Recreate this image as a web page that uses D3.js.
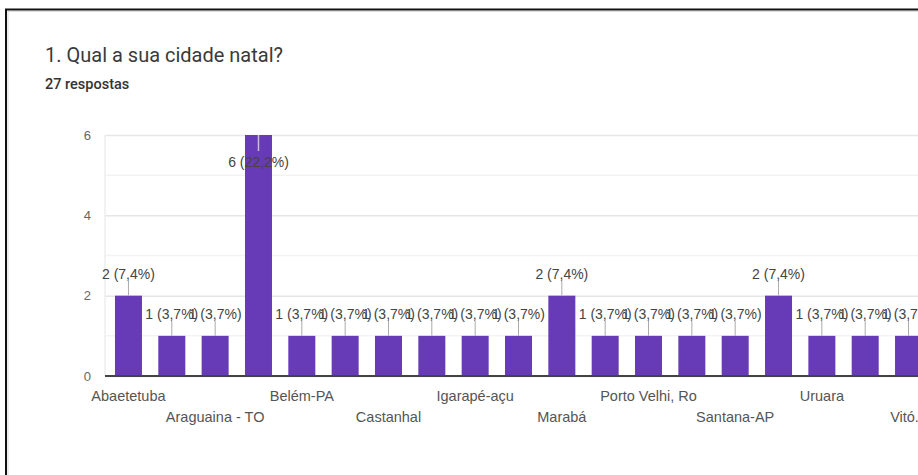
<!DOCTYPE html>
<html>
<head>
<meta charset="utf-8">
<script src="https://cdn.jsdelivr.net/npm/d3@7/dist/d3.min.js"></script>
<style>
  html, body { margin: 0; padding: 0; background: #fff; overflow: hidden; }
  svg { display: block; }
</style>
</head>
<body>
<svg id="chart" width="918" height="475"></svg>
<script>
const title = "1. Qual a sua cidade natal?";
const subtitle = "27 respostas";
const categories = ["Abaetetuba", "Ananindeua", "Araguaina - TO", "Belém", "Belém-PA", "Breves",
  "Castanhal", "Curuçá", "Igarapé-açu", "Itaituba", "Marabá", "Parauapebas", "Porto Velhi, Ro",
  "Redenção", "Santana-AP", "Santarém", "Uruara", "Vigia", "Vitória do Xingu"];
const tickLabels = ["Abaetetuba", "", "Araguaina - TO", "", "Belém-PA", "", "Castanhal", "",
  "Igarapé-açu", "", "Marabá", "", "Porto Velhi, Ro", "", "Santana-AP", "", "Uruara", "", "Vitó..."];
const values = [2, 1, 1, 6, 1, 1, 1, 1, 1, 1, 2, 1, 1, 1, 1, 2, 1, 1, 1];
const total = 27;
const yMajorTicks = [0, 2, 4, 6];
const yMinorTicks = [1, 3, 5];

const svg = d3.select("#chart");

// card border
svg.append("rect").attr("x", 6).attr("y", 9.5).attr("width", 1000).attr("height", 600)
  .attr("fill", "#fff").attr("stroke", "#111").attr("stroke-width", 2);
svg.append("rect").attr("x", 8).attr("y", 11.5).attr("width", 1000).attr("height", 600)
  .attr("fill", "none").attr("stroke", "#ddd").attr("stroke-width", 1);

svg.append("text").attr("x", 45).attr("y", 62)
  .attr("font-family", "Roboto, 'Liberation Sans', sans-serif").attr("font-size", 20)
  .attr("fill", "#3a3a3a").text(title);
svg.append("text").attr("x", 45).attr("y", 89)
  .attr("font-family", "Roboto, 'Liberation Sans', sans-serif").attr("font-size", 14.5)
  .attr("font-weight", 500).attr("fill", "#333").text(subtitle);

const x = d3.scaleBand().domain(categories).range([105, 932])
  .paddingInner(0.377).paddingOuter(0.23);
const y = d3.scaleLinear().domain([0, 6]).range([376, 135]);

const font = "'Liberation Sans', Arial, sans-serif";

// minor gridlines
svg.append("g").selectAll("line").data(yMinorTicks).join("line")
  .attr("x1", 105).attr("x2", 940).attr("y1", d => y(d)).attr("y2", d => y(d))
  .attr("stroke", "#f3f3f3").attr("stroke-width", 1.5);

// major gridlines + labels via axis
const yAxis = svg.append("g").attr("transform", "translate(105,0)")
  .call(d3.axisLeft(y).tickValues(yMajorTicks).tickSize(-835).tickPadding(14).tickFormat(d3.format("d")));
yAxis.select(".domain").remove();
yAxis.selectAll(".tick line").attr("stroke", "#e6e6e6").attr("stroke-width", 1.5);
yAxis.selectAll(".tick text").attr("font-family", font).attr("font-size", 13).attr("fill", "#666");

// left vertical faint line
svg.append("line").attr("x1", 105).attr("x2", 105).attr("y1", y(6)).attr("y2", y(0))
  .attr("stroke", "#eee").attr("stroke-width", 1.5);

// bars
svg.append("g").selectAll("rect").data(values).join("rect")
  .attr("x", (d, i) => x(categories[i])).attr("width", x.bandwidth())
  .attr("y", d => y(d)).attr("height", d => y(0) - y(d))
  .attr("fill", "#673ab7");

// baseline
svg.append("line").attr("x1", 105).attr("x2", 940).attr("y1", y(0)).attr("y2", y(0))
  .attr("stroke", "#444").attr("stroke-width", 2);

// x axis labels (alternating rows)
const xAxis = svg.append("g").attr("transform", `translate(0,${y(0)})`)
  .call(d3.axisBottom(x).tickSize(0).tickFormat((d, i) => tickLabels[i]));
xAxis.select(".domain").remove();
xAxis.selectAll(".tick text")
  .attr("font-family", font).attr("font-size", 14.5).attr("fill", "#555")
  .attr("dy", null)
  .attr("y", (d, i) => (Math.floor(i / 2) % 2 === 0) ? 25 : 46);

// value labels
const pctFmt = v => (v / total * 100).toFixed(1).replace(".", ",") + "%";
const lab = svg.append("g");
values.forEach((v, i) => {
  const cx = x(categories[i]) + x.bandwidth() / 2;
  const top = y(v);
  const inside = top - 30 < 130;
  if (inside) {
    lab.append("line").attr("x1", cx).attr("x2", cx).attr("y1", top).attr("y2", top + 16)
      .attr("stroke", "#c9bde6").attr("stroke-width", 1.5);
    lab.append("text").attr("x", cx).attr("y", top + 32).attr("text-anchor", "middle")
      .attr("font-family", font).attr("font-size", 14).attr("fill", "#444")
      .text(`${v} (${pctFmt(v)})`);
  } else {
    lab.append("line").attr("x1", cx).attr("x2", cx).attr("y1", top).attr("y2", top - 15)
      .attr("stroke", "#aaa").attr("stroke-width", 1);
    lab.append("text").attr("x", cx).attr("y", top - 17).attr("text-anchor", "middle")
      .attr("font-family", font).attr("font-size", 14).attr("fill", "#444")
      .text(`${v} (${pctFmt(v)})`);
  }
});
</script>
</body>
</html>
